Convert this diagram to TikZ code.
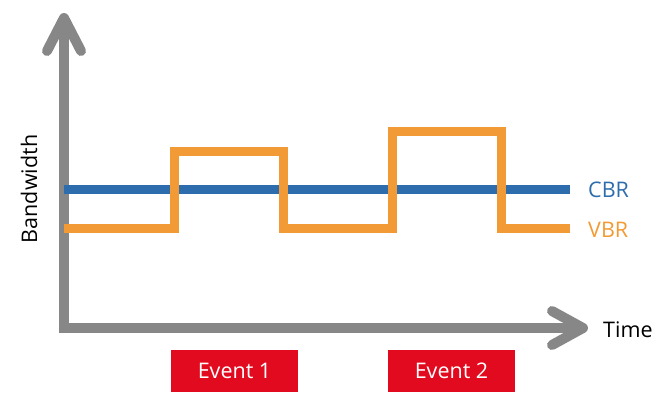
\documentclass[tikz,border=0pt]{standalone}
\usepackage{fontspec}
\setmainfont{Open Sans}
\usepackage{tikz}
\usetikzlibrary{arrows.meta,positioning}
\definecolor{axisgray}{HTML}{878787}
\definecolor{cbrblue}{HTML}{2E6DAD}
\definecolor{vbrorange}{HTML}{F29A35}
\definecolor{eventred}{HTML}{E20A1E}

\begin{document}
\begin{tikzpicture}[x=1pt,y=-1pt,
    axis/.style={draw=axisgray,line width=10pt},
    tip/.style={draw=axisgray,line width=10pt,line cap=round,line join=round},
    rate/.style={line width=9pt},
    event/.style={fill=eventred,text=white,minimum width=127pt,minimum height=42pt,inner sep=0pt},
    lbl/.style={font=\fontsize{21.5}{26}\selectfont,inner sep=0pt}]
      \useasboundingbox (0,0) rectangle (668,418);
      \coordinate (origin) at (64,328);
      \coordinate (ytip) at (64,18);
      \coordinate (xtip) at (583,328);
      \draw[axis] (xtip) -- (origin) -- (ytip);
      \draw[tip] (47,51) -- (ytip) -- (81,51);
      \draw[tip] (552,311) -- (xtip) -- (552,345);
      \draw[rate,cbrblue] (64,189) -- (570,189) coordinate (cbrend);
      \draw[rate,vbrorange] (64,228) -- (174,228) -- (174,151) -- (283,151) -- (283,228)
        -- (392,228) -- (392,131) -- (501,131) -- (501,228) -- (570,228) coordinate (vbrend);
      \node[lbl,text=cbrblue,anchor=base west] (cbr) at (588,197) {CBR};
      \node[lbl,text=vbrorange,anchor=base west] (vbr) at (588,237) {VBR};
      \node[lbl,anchor=base west] (time) at (603,337) {Time};
      \node[lbl,rotate=90,anchor=base] (bandwidth) at (37,189) {Bandwidth};
      \node[event,lbl,inner sep=0pt] (event1) at (234.5,371) {Event 1};
      \node[event,lbl,inner sep=0pt] (event2) at (451.5,371) {Event 2};
\end{tikzpicture}
\end{document}
